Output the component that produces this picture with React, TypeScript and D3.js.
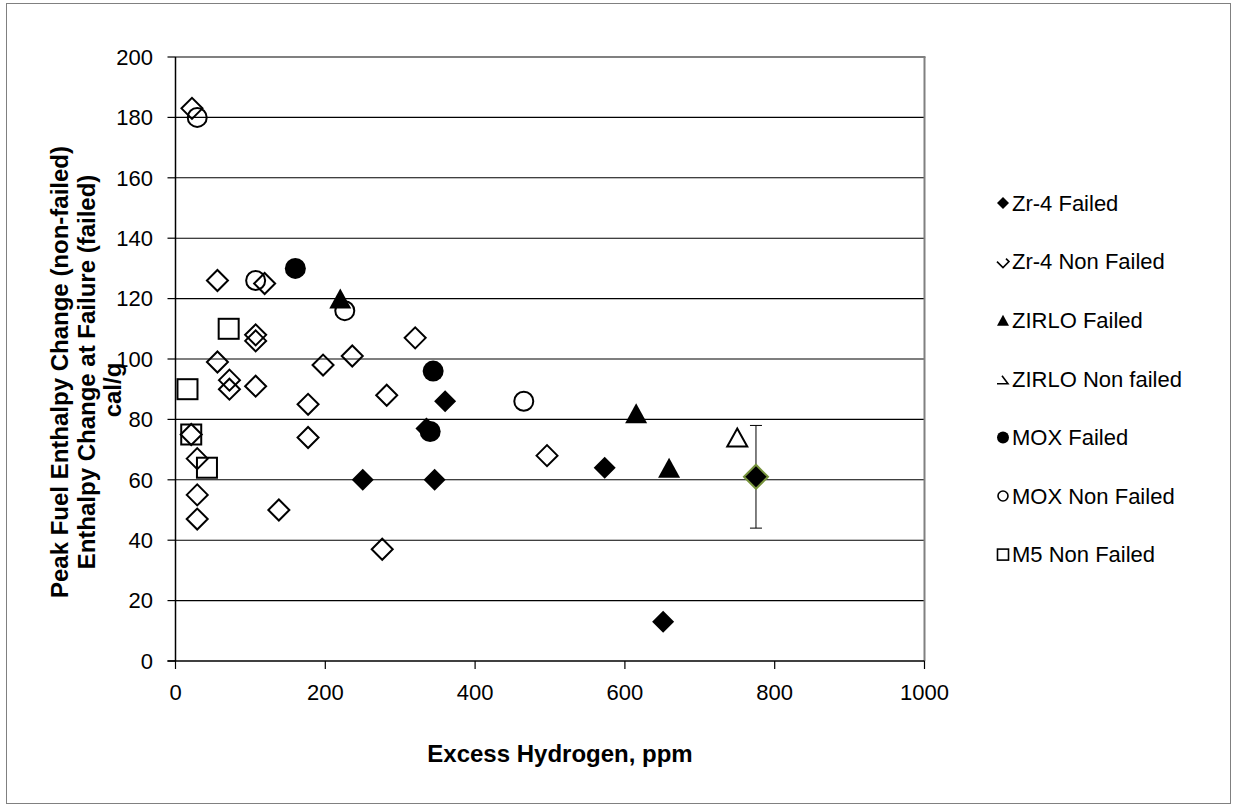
import React from "react";
import * as d3 from "d3";

const xTicks = [0, 200, 400, 600, 800, 1000];
const yTicks = [0, 20, 40, 60, 80, 100, 120, 140, 160, 180, 200];

const zr4FailedX = [250, 346, 360, 573, 651, 335];
const zr4FailedY = [60, 60, 86, 64, 13, 77];

const zr4NonFailedX = [22, 56, 119, 107, 107, 320, 56, 197, 236, 72, 72, 107, 177, 282, 177, 21, 29, 29, 29, 138, 276, 496];
const zr4NonFailedY = [183, 126, 125, 108, 106, 107, 99, 98, 101, 93, 90, 91, 85, 88, 74, 75, 67, 55, 47, 50, 37, 68];

const zirloFailedX = [220, 615, 659];
const zirloFailedY = [120, 82, 64];

const zirloNonFailedX = [750];
const zirloNonFailedY = [74];

const moxFailedX = [160, 344, 340];
const moxFailedY = [130, 96, 76];

const moxNonFailedX = [29, 107, 226, 465];
const moxNonFailedY = [180, 126, 116, 86];

const m5NonFailedX = [71, 16, 21, 42];
const m5NonFailedY = [110, 90, 75, 64];

const meanX = [775];
const meanY = [61];
const meanLow = [44];
const meanHigh = [78];

const legendLabels = [
  "Zr-4 Failed",
  "Zr-4 Non Failed",
  "ZIRLO Failed",
  "ZIRLO Non failed",
  "MOX Failed",
  "MOX Non Failed",
  "M5 Non Failed",
];

const FONT = "'Liberation Sans', Arial, sans-serif";

function diamond(cx: number, cy: number, h: number) {
  return `M${cx - h},${cy}L${cx},${cy + h}L${cx + h},${cy}L${cx},${cy - h}Z`;
}
function triangle(cx: number, cy: number, w: number, h: number) {
  return `M${cx},${cy - h / 2}L${cx + w / 2},${cy + h / 2}L${cx - w / 2},${cy + h / 2}Z`;
}

export default function App() {
  const W = 1233, H = 811;
  const x = d3.scaleLinear().domain([0, 1000]).range([175.5, 924.5]);
  const y = d3.scaleLinear().domain([0, 200]).range([661, 57]);

  const pts = (xs: number[], ys: number[]) => xs.map((v, i) => [x(v), y(ys[i])]);

  const legendY0 = 203;
  const legendStep = 58.6;
  const lx = 1003;

  return (
    <div style={{ position: "absolute", left: 0, top: 0 }}>
      <svg width={W} height={H} style={{ display: "block", background: "#fff" }} fontFamily={FONT}>
        <rect x={6.5} y={3.5} width={1224} height={800} fill="#fff" stroke="#808080" strokeWidth={1} />
        {/* gridlines */}
        {yTicks.filter((t) => t > 0).map((t) => (
          <line key={"g" + t} x1={x(0)} x2={x(1000)} y1={y(t)} y2={y(t)} stroke="#000" strokeWidth={1.1} />
        ))}
        {/* plot border top/right */}
        <line x1={x(0)} x2={x(1000) + 1} y1={y(200)} y2={y(200)} stroke="#808080" strokeWidth={2} />
        <line x1={x(1000)} x2={x(1000)} y1={y(200)} y2={y(0)} stroke="#808080" strokeWidth={2} />
        {/* axes */}
        <line x1={x(0)} x2={x(0)} y1={y(200)} y2={y(0)} stroke="#000" strokeWidth={1.5} />
        <line x1={x(0) - 8} x2={x(1000)} y1={y(0)} y2={y(0)} stroke="#000" strokeWidth={1.5} />
        {yTicks.map((t) => (
          <g key={"yt" + t}>
            <line x1={x(0) - 8} x2={x(0)} y1={y(t)} y2={y(t)} stroke="#000" strokeWidth={1.2} />
            <text x={153} y={y(t)} dy="0.35em" textAnchor="end" fontSize={22} fill="#000">{t}</text>
          </g>
        ))}
        {xTicks.map((t) => (
          <g key={"xt" + t}>
            <line x1={x(t)} x2={x(t)} y1={y(0)} y2={y(0) + 8} stroke="#000" strokeWidth={1.2} />
            <text x={x(t)} y={692} dy="0.35em" textAnchor="middle" fontSize={22} fill="#000">{t}</text>
          </g>
        ))}
        {/* axis titles */}
        <text x={560} y={754} dy="0.35em" textAnchor="middle" fontSize={24} fontWeight="bold">Excess Hydrogen, ppm</text>
        <text transform="translate(60,372) rotate(-90)" dy="0.35em" textAnchor="middle" fontSize={24} fontWeight="bold">Peak Fuel Enthalpy Change (non-failed)</text>
        <text transform="translate(87,372) rotate(-90)" dy="0.35em" textAnchor="middle" fontSize={24} fontWeight="bold">Enthalpy Change at Failure (failed)</text>
        <text transform="translate(113,390) rotate(-90)" dy="0.35em" textAnchor="middle" fontSize={24} fontWeight="bold">cal/g</text>
        {/* series */}
        {pts(zr4FailedX, zr4FailedY).map(([cx, cy], i) => (
          <path key={"zf" + i} d={diamond(cx, cy, 11)} fill="#000" />
        ))}
        {pts(zr4NonFailedX, zr4NonFailedY).map(([cx, cy], i) => (
          <path key={"zn" + i} d={diamond(cx, cy, 10.5)} fill="none" stroke="#000" strokeWidth={2} />
        ))}
        {pts(zirloFailedX, zirloFailedY).map(([cx, cy], i) => (
          <path key={"lf" + i} d={triangle(cx, cy, 22, 20)} fill="#000" />
        ))}
        {pts(zirloNonFailedX, zirloNonFailedY).map(([cx, cy], i) => (
          <path key={"ln" + i} d={triangle(cx, cy, 20, 18)} fill="none" stroke="#000" strokeWidth={2} />
        ))}
        {pts(moxFailedX, moxFailedY).map(([cx, cy], i) => (
          <circle key={"mf" + i} cx={cx} cy={cy} r={10.5} fill="#000" />
        ))}
        {pts(moxNonFailedX, moxNonFailedY).map(([cx, cy], i) => (
          <circle key={"mn" + i} cx={cx} cy={cy} r={9.5} fill="none" stroke="#000" strokeWidth={2} />
        ))}
        {pts(m5NonFailedX, m5NonFailedY).map(([cx, cy], i) => (
          <rect key={"m5" + i} x={cx - 10} y={cy - 10} width={20} height={20} fill="none" stroke="#000" strokeWidth={2} />
        ))}
        {meanX.map((v, i) => (
          <g key={"mean" + i}>
            <line x1={x(v)} x2={x(v)} y1={y(meanLow[i])} y2={y(meanHigh[i])} stroke="#000" strokeWidth={1} />
            <line x1={x(v) - 6} x2={x(v) + 6} y1={y(meanLow[i])} y2={y(meanLow[i])} stroke="#000" strokeWidth={1} />
            <line x1={x(v) - 6} x2={x(v) + 6} y1={y(meanHigh[i])} y2={y(meanHigh[i])} stroke="#000" strokeWidth={1} />
            <path d={diamond(x(v), y(meanY[i]), 12)} fill="#000" stroke="#77933C" strokeWidth={2} />
          </g>
        ))}
        {/* legend */}
        {legendLabels.map((lab, i) => {
          const cy = legendY0 + i * legendStep;
          let mark;
          if (i === 0) mark = <path d={diamond(lx, cy, 6)} fill="#000" />;
          else if (i === 1) mark = <path d={`M${lx - 6},${cy}L${lx},${cy + 6}L${lx + 6},${cy}L${lx + 3},${cy - 3}`} fill="none" stroke="#000" strokeWidth={1.6} />;
          else if (i === 2) mark = <path d={triangle(lx, cy, 12, 11)} fill="#000" />;
          else if (i === 3) mark = <path d={`M${lx - 1},${cy - 3}L${lx + 5},${cy + 5}L${lx - 6},${cy + 5}`} fill="none" stroke="#000" strokeWidth={1.6} />;
          else if (i === 4) mark = <circle cx={lx} cy={cy} r={6} fill="#000" />;
          else if (i === 5) mark = <circle cx={lx} cy={cy} r={5} fill="none" stroke="#000" strokeWidth={1.6} />;
          else mark = <rect x={lx - 5.5} y={cy - 5.5} width={11} height={11} fill="none" stroke="#000" strokeWidth={1.6} />;
          return (
            <g key={"lg" + i}>
              {mark}
              <text x={lx + 9} y={cy} dy="0.35em" fontSize={22} fill="#000">{lab}</text>
            </g>
          );
        })}
      </svg>
    </div>
  );
}
